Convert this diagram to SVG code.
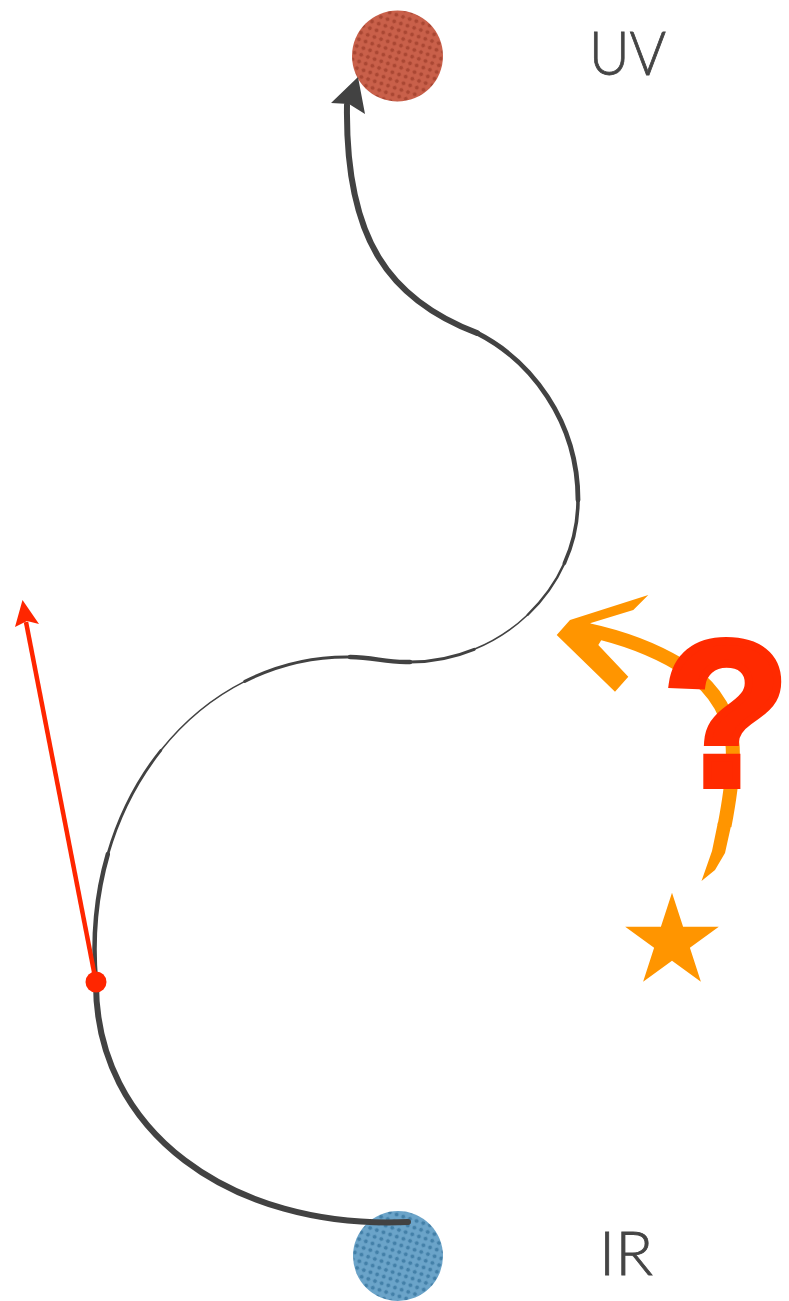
<svg xmlns="http://www.w3.org/2000/svg" width="789" height="1301" viewBox="0 0 789 1301">
<style>
.lbl{font-family:"Lato","Open Sans","DejaVu Sans",sans-serif;font-weight:300;font-size:62px;fill:#454545;stroke:#454545;stroke-width:0.8}
.blk{fill:none;stroke:#424242;stroke-linecap:round}
.org{fill:none;stroke:#ff9500}
</style>
<defs>
<pattern id="dotsR" width="7" height="7" patternUnits="userSpaceOnUse" patternTransform="rotate(18)">
<rect width="7" height="7" fill="#c9604a"/>
<circle cx="3.5" cy="3.5" r="2" fill="#a3412d" opacity="0.8"/>
</pattern>
<pattern id="dotsB" width="7" height="7" patternUnits="userSpaceOnUse" patternTransform="rotate(18)">
<rect width="7" height="7" fill="#6ba4c9"/>
<circle cx="3.5" cy="3.5" r="2" fill="#3a77a0" opacity="0.8"/>
</pattern>
</defs>
<rect width="789" height="1301" fill="#ffffff"/>

<g id="node-uv">
<circle cx="397.5" cy="56" r="45.5" fill="url(#dotsR)"/>
<text class="lbl" x="589" y="75" textLength="77" lengthAdjust="spacingAndGlyphs">UV</text>
</g>

<g id="node-ir">
<circle cx="398" cy="1256" r="45" fill="url(#dotsB)"/>
<text class="lbl" x="599" y="1275" textLength="54" lengthAdjust="spacingAndGlyphs">IR</text>
</g>

<g id="connectors">
<!-- main black S-shaped curve with varying width -->
<path class="blk" stroke-width="6" stroke-linecap="butt" d="M408,1222 C230,1230 95,1130 96,982"/>
<path class="blk" stroke-width="4.5" d="M96,982 C92,936.5 96.5,893.3 107.85,854.15"/>
<path class="blk" stroke-width="2.8" d="M107.85,854.15 C119.2,815 137.4,779.9 160.75,750.5"/>
<path class="blk" stroke-width="1.6" d="M160.75,750.5 C184.1,721.1 212.7,697.5 244.8,681.35"/>
<path class="blk" stroke-width="3" d="M244.8,681.35 C276.9,665.2 312.5,656.5 350,657"/>
<path class="blk" stroke-width="4.5" d="M350,657 C375,657 385,663 410,662"/>
<path class="blk" stroke-width="3" d="M410,662 C432.5,662 454.25,657.5 474.2,649.35"/>
<path class="blk" stroke-width="1.6" d="M474.2,649.35 C494.2,641.2 512.4,629.4 527.75,614.75"/>
<path class="blk" stroke-width="2.4" d="M527.75,614.75 C543.1,600.1 555.7,582.7 564.4,563.3"/>
<path class="blk" stroke-width="3.6" d="M564.4,563.3 C573.1,543.9 578,522.5 578,500"/>
<path class="blk" stroke-width="4.8" d="M578,500 C578,420 530,360 477,333"/>
<path class="blk" stroke-width="6" d="M477,333 C390,300 345,240 347,105"/>
<polygon fill="#424242" points="358,77 365,114 349,104 331,103"/>

<!-- red arrow -->
<line x1="96" y1="982" x2="26" y2="622" stroke="#ff2600" stroke-width="4.5"/>
<polygon fill="#ff2600" points="22.5,600 39,624 27,621 15,627"/>
<circle cx="96" cy="982" r="10.5" fill="#ff2600"/>

<!-- orange curved arrow -->
<polygon fill="#ff9500" points="701.5,881 712,851 718,822 731,826 725,853 715,870"/>
<path class="org" stroke-width="14" stroke-linecap="butt" d="M724.5,826 C731,792 735,762 732,740 C728,705 705,680 680,665 C655,650 625,638 588,630"/>
<polygon fill="#ff9500" points="556.7,635 570,620 648.3,595 633.3,610 590,623.3 605,634 598.3,645 628.3,676.7 615,691.7"/>
</g>

<g id="question">
<text x="789" y="785" text-anchor="end" font-family="Liberation Sans, Arial, sans-serif" font-weight="bold" font-size="206" fill="#ff2a00" stroke="#ff2a00" stroke-width="8" stroke-linejoin="miter">?</text>
</g>

<g id="star">
<polygon fill="#ff9500" points="672,892.8 683.1,926.8 718.8,926.8 689.9,947.8 700.9,981.8 672,960.8 643.1,981.8 654.1,947.8 625.2,926.8 660.9,926.8"/>
</g>
</svg>
